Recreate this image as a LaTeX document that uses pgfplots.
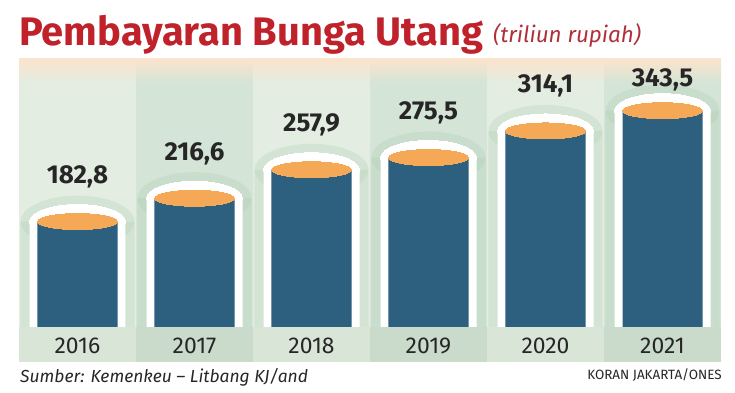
\documentclass[border=0pt]{standalone}
\usepackage{fontspec}
\setmainfont{Fira Sans}
\usepackage{pgfplots}
\pgfplotsset{compat=1.18}
\definecolor{titlered}{HTML}{C0222B}
\definecolor{subred}{HTML}{B0303A}
\definecolor{colA}{HTML}{E3EDE1}
\definecolor{colB}{HTML}{D4E4D6}
\definecolor{bandA}{HTML}{D9E5D7}
\definecolor{bandB}{HTML}{CADBCC}
\definecolor{peach}{HTML}{FBE4CD}
\definecolor{cylblue}{HTML}{2D5F7E}
\definecolor{cyltop}{HTML}{F5A957}
\definecolor{glow}{HTML}{9CC4A4}
\definecolor{txt}{HTML}{262626}
\begin{document}
\begin{tikzpicture}
\useasboundingbox (0,0) rectangle (735bp,393bp);
\node[anchor=base west, inner sep=0, text=titlered, font=\fontsize{40}{40}\selectfont\bfseries] at (19bp,347bp) {Pembayaran Bunga Utang};
\node[anchor=base west, inner sep=0, text=subred, font=\fontsize{22.5}{22.5}\selectfont\itshape] at (493bp,350bp) {(triliun rupiah)};
\node[anchor=base west, inner sep=0, text=txt, font=\fontsize{17.5}{17.5}\selectfont\itshape] at (20bp,11bp) {Sumber: Kemenkeu -- Litbang KJ/and};
\node[anchor=base east, inner sep=0, text=txt, font=\fontsize{13.5}{13.5}\selectfont] at (722bp,14bp) {KORAN JAKARTA/ONES};
\begin{axis}[at={(19bp,66bp)}, anchor=south west, scale only axis,
  width=702bp, height=268bp,
  xmin=-0.5, xmax=5.5, ymin=30, ymax=418.4,
  clip mode=individual, axis on top,
  axis line style={draw=none}, ytick=\empty,
  xtick={0,1,2,3,4,5}, xticklabels={2016,2017,2018,2019,2020,2021},
  major tick length=0pt,
  xticklabel style={anchor=base, yshift=-26bp, font=\fontsize{23}{23}\selectfont, text=txt}]
% column backgrounds
\fill[colA] (axis cs:-0.5,30) rectangle (axis cs:0.5,418.4);
\fill[colB] (axis cs:0.5,30) rectangle (axis cs:1.5,418.4);
\fill[colA] (axis cs:1.5,30) rectangle (axis cs:2.5,418.4);
\fill[colB] (axis cs:2.5,30) rectangle (axis cs:3.5,418.4);
\fill[colA] (axis cs:3.5,30) rectangle (axis cs:4.5,418.4);
\fill[colB] (axis cs:4.5,30) rectangle (axis cs:5.5,418.4);
\shade[top color=peach, bottom color=colA] (axis cs:-0.5,383) rectangle (axis cs:0.5,418.4);
\shade[top color=peach, bottom color=colB] (axis cs:0.5,383) rectangle (axis cs:1.5,418.4);
\shade[top color=peach, bottom color=colA] (axis cs:1.5,383) rectangle (axis cs:2.5,418.4);
\shade[top color=peach, bottom color=colB] (axis cs:2.5,383) rectangle (axis cs:3.5,418.4);
\shade[top color=peach, bottom color=colA] (axis cs:3.5,383) rectangle (axis cs:4.5,418.4);
\shade[top color=peach, bottom color=colB] (axis cs:4.5,383) rectangle (axis cs:5.5,418.4);
% year band
\fill[bandA] (axis cs:-0.5,30) rectangle ([yshift=-35bp]axis cs:0.5,30);
\fill[bandB] (axis cs:0.5,30) rectangle ([yshift=-35bp]axis cs:1.5,30);
\fill[bandA] (axis cs:1.5,30) rectangle ([yshift=-35bp]axis cs:2.5,30);
\fill[bandB] (axis cs:2.5,30) rectangle ([yshift=-35bp]axis cs:3.5,30);
\fill[bandA] (axis cs:3.5,30) rectangle ([yshift=-35bp]axis cs:4.5,30);
\fill[bandB] (axis cs:4.5,30) rectangle ([yshift=-35bp]axis cs:5.5,30);
% glow
\addplot[ybar, bar shift=0pt, bar width=0.975, fill=glow, fill opacity=0.2, draw=none]
  coordinates {(0,182.8) (1,216.6) (2,257.9) (3,275.5) (4,314.1) (5,343.5)};
\addplot[color=glow, only marks, mark=*, mark size=26bp, mark options={xscale=2.19, fill=glow, fill opacity=0.2, draw opacity=0, line width=0pt}]
  coordinates {(0,182.8) (1,216.6) (2,257.9) (3,275.5) (4,314.1) (5,343.5)};
% white outline
\addplot[ybar, bar shift=0pt, bar width=0.8205, fill=white, draw=none]
  coordinates {(0,182.8) (1,216.6) (2,257.9) (3,275.5) (4,314.1) (5,343.5)};
\addplot[color=white, only marks, mark=*, mark size=17bp, mark options={xscale=2.8235, fill=white, draw=white, line width=0pt}]
  coordinates {(0,182.8) (1,216.6) (2,257.9) (3,275.5) (4,314.1) (5,343.5)};
% cylinder body
\addplot[ybar, bar shift=0pt, bar width=0.6838, fill=cylblue, draw=none]
  coordinates {(0,182.8) (1,216.6) (2,257.9) (3,275.5) (4,314.1) (5,343.5)};
% cylinder tops + labels
\addplot[color=cyltop, only marks, mark=*, mark size=8bp, mark options={xscale=5, fill=cyltop, draw=cyltop, line width=0pt},
  point meta=explicit symbolic, nodes near coords,
  nodes near coords style={anchor=base, yshift=38bp, text=txt, font=\fontsize{26}{26}\selectfont\bfseries}]
  coordinates {(0,182.8) [182,8] (1,216.6) [216,6] (2,257.9) [257,9] (3,275.5) [275,5] (4,314.1) [314,1]};
\addplot[color=cyltop, only marks, mark=*, mark size=8bp, mark options={xscale=5, fill=cyltop, draw=cyltop, line width=0pt},
  point meta=explicit symbolic, nodes near coords,
  nodes near coords style={anchor=base, yshift=24bp, text=txt, font=\fontsize{26}{26}\selectfont\bfseries}]
  coordinates {(5,343.5) [343,5]};
\end{axis}
\end{tikzpicture}
\end{document}
